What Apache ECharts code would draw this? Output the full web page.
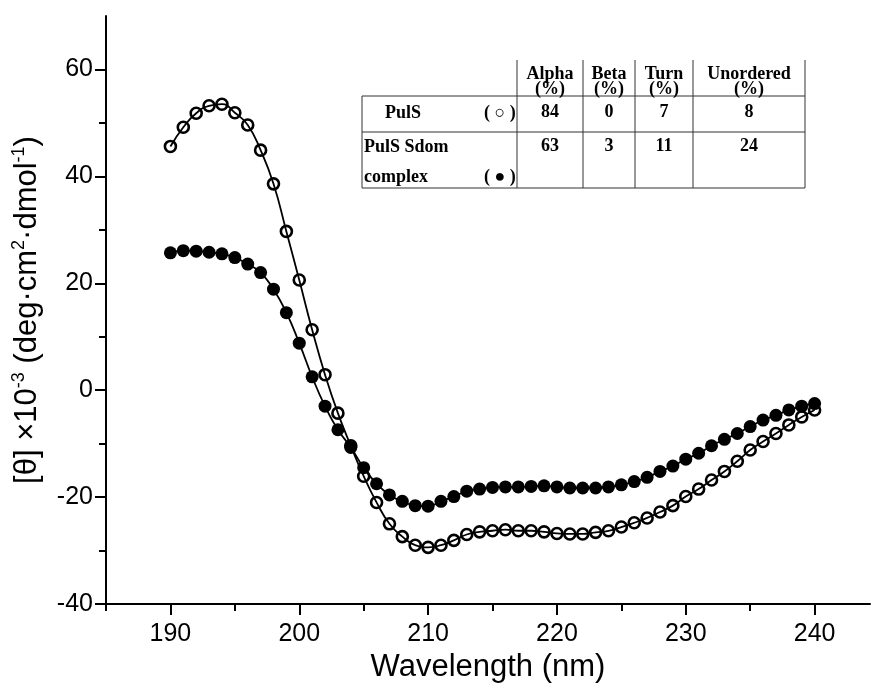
<!DOCTYPE html>
<html>
<head>
<meta charset="utf-8">
<script src="https://cdn.jsdelivr.net/npm/echarts@6/dist/echarts.min.js"></script>
<style>
  html, body { margin: 0; padding: 0; background: #fff; }
  #chart { width: 872px; height: 688px; }
</style>
</head>
<body>
<div id="chart"></div>
<script>
// wavelength (nm), 1 nm steps
const wavelengths = [190, 191, 192, 193, 194, 195, 196, 197, 198, 199, 200, 201, 202, 203, 204, 205, 206,
  207, 208, 209, 210, 211, 212, 213, 214, 215, 216, 217, 218, 219, 220, 221, 222, 223, 224, 225, 226,
  227, 228, 229, 230, 231, 232, 233, 234, 235, 236, 237, 238, 239, 240];

// PulS (open circles)
const pulsValues = [45.6, 49.2, 51.8, 53.2, 53.5, 51.9, 49.6, 44.9, 38.6, 29.7, 20.6, 11.3, 2.9, -4.3,
  -10.4, -16.1, -21.0, -25.0, -27.4, -29.0, -29.4, -29.0, -28.1, -27.0, -26.5, -26.3, -26.1, -26.3,
  -26.3, -26.5, -26.8, -26.9, -26.9, -26.6, -26.3, -25.6, -24.8, -23.9, -22.8, -21.6, -19.9, -18.5,
  -16.8, -15.2, -13.3, -11.2, -9.6, -8.1, -6.5, -5.0, -3.7];

// PulS Sdom complex (filled circles)
const complexValues = [25.7, 26.1, 26.0, 25.8, 25.5, 24.8, 23.6, 22.0, 18.9, 14.5, 8.8, 2.5, -3.0, -7.4,
  -10.7, -14.5, -17.5, -19.6, -20.8, -21.6, -21.7, -20.8, -19.9, -18.9, -18.5, -18.2, -18.1, -18.1,
  -18.0, -17.9, -18.1, -18.3, -18.3, -18.3, -18.1, -17.7, -17.1, -16.3, -15.2, -14.2, -12.9, -11.8,
  -10.4, -9.2, -8.1, -6.8, -5.6, -4.7, -3.7, -3.0, -2.5];

const xMajorTicks = [190, 200, 210, 220, 230, 240];
const xMinorTicks = [185, 195, 205, 215, 225, 235];
const yMajorTicks = [-40, -20, 0, 20, 40, 60];
const yMinorTicks = [-30, -10, 10, 30, 50];

// secondary structure table
const tableHeaders = ['Alpha', 'Beta', 'Turn', 'Unordered'];
const pulsRow = [84, 0, 7, 8];
const complexRow = [63, 3, 11, 24];

const chart = echarts.init(document.getElementById('chart'));

const zipped = (vals) => wavelengths.map((w, i) => [w, vals[i]]);

// table layout
const colX = [362, 517, 583, 635, 693, 805];
const rowY = [60, 96, 132, 188];
const tableFont = 'bold 18px "Liberation Serif", "Times New Roman", serif';
const lineStyle = { stroke: '#333', lineWidth: 1 };
const tableGraphics = [];
const hline = (x1, x2, y) => tableGraphics.push({ type: 'line', shape: { x1, y1: y, x2, y2: y }, style: lineStyle });
const vline = (x, y1, y2) => tableGraphics.push({ type: 'line', shape: { x1: x, y1, x2: x, y2 }, style: lineStyle });
hline(colX[0], colX[5], rowY[1]);
hline(colX[0], colX[5], rowY[2]);
hline(colX[0], colX[5], rowY[3]);
vline(colX[0], rowY[1], rowY[3]);
for (let c = 1; c < 6; c++) vline(colX[c], rowY[0], rowY[3]);
const cellText = (text, x, y, align) => tableGraphics.push({
  type: 'text', x, y,
  style: { text, font: tableFont, fill: '#000', align: align || 'center', verticalAlign: 'middle' }
});
tableHeaders.forEach((h, i) => {
  const cx = (colX[i + 1] + colX[i + 2]) / 2;
  cellText(h, cx, 74);
  cellText('(%)', cx, 89);
  cellText(String(pulsRow[i]), cx, 112);
  cellText(String(complexRow[i]), cx, 146);
});
cellText('PulS', 385, 113, 'left');
cellText('( ○ )', 484, 113, 'left');
cellText('PulS Sdom', 364, 147, 'left');
cellText('complex', 364, 177, 'left');
cellText('( ● )', 484, 177, 'left');

const baseFont = 'Liberation Sans';

const option = {
  animation: false,
  backgroundColor: '#fff',
  grid: { left: 106, right: 2, top: 16, bottom: 84, containLabel: false },
  xAxis: [
    {
      type: 'value', min: 185, max: 244.3, position: 'bottom',
      axisLine: { onZero: false, lineStyle: { color: '#000', width: 2 } },
      axisTick: { customValues: xMajorTicks, length: 11, lineStyle: { color: '#000', width: 2 } },
      axisLabel: { customValues: xMajorTicks, color: '#000', fontSize: 25, fontFamily: baseFont, margin: 18 },
      splitLine: { show: false },
      name: 'Wavelength (nm)', nameLocation: 'middle', nameGap: 46,
      nameTextStyle: { color: '#000', fontSize: 31, fontFamily: baseFont }
    },
    {
      type: 'value', min: 185, max: 244.3, position: 'bottom',
      axisLine: { show: false, onZero: false },
      axisTick: { customValues: xMinorTicks, length: 7, lineStyle: { color: '#000', width: 2 } },
      axisLabel: { show: false },
      splitLine: { show: false }
    }
  ],
  yAxis: [
    {
      type: 'value', min: -40, max: 70, position: 'left',
      axisLine: { show: true, onZero: false, lineStyle: { color: '#000', width: 2 } },
      axisTick: { show: true, customValues: yMajorTicks, length: 11, lineStyle: { color: '#000', width: 2 } },
      axisLabel: { customValues: yMajorTicks, color: '#000', fontSize: 25, fontFamily: baseFont, margin: 13 },
      splitLine: { show: false },
      name: '{a|[θ] ×10}{s|-3}{a| (deg·cm}{s|2}{a|·dmol}{s|-1}{a|)}',
      nameLocation: 'middle', nameGap: 62,
      nameTextStyle: {
        color: '#000',
        rich: {
          a: { fontSize: 31, fontFamily: baseFont, color: '#000', lineHeight: 34 },
          s: { fontSize: 18, fontFamily: baseFont, color: '#000', verticalAlign: 'top', lineHeight: 34 }
        }
      }
    },
    {
      type: 'value', min: -40, max: 70, position: 'left',
      axisLine: { show: false, onZero: false },
      axisTick: { show: true, customValues: yMinorTicks, length: 7, lineStyle: { color: '#000', width: 2 } },
      axisLabel: { show: false },
      splitLine: { show: false }
    }
  ],
  graphic: tableGraphics,
  series: [
    {
      name: 'PulS', type: 'line', xAxisIndex: 0, yAxisIndex: 0,
      data: zipped(pulsValues), smooth: true,
      symbol: 'circle', symbolSize: 11,
      lineStyle: { color: '#000', width: 1.8 },
      itemStyle: { color: 'rgba(0,0,0,0)', borderColor: '#000', borderWidth: 2.6 },
      z: 3
    },
    {
      name: 'PulS Sdom complex', type: 'line', xAxisIndex: 0, yAxisIndex: 0,
      data: zipped(complexValues), smooth: true,
      symbol: 'circle', symbolSize: 13,
      lineStyle: { color: '#000', width: 1.8 },
      itemStyle: { color: '#000', borderWidth: 0 },
      z: 2
    }
  ]
};

chart.setOption(option);
</script>
</body>
</html>
